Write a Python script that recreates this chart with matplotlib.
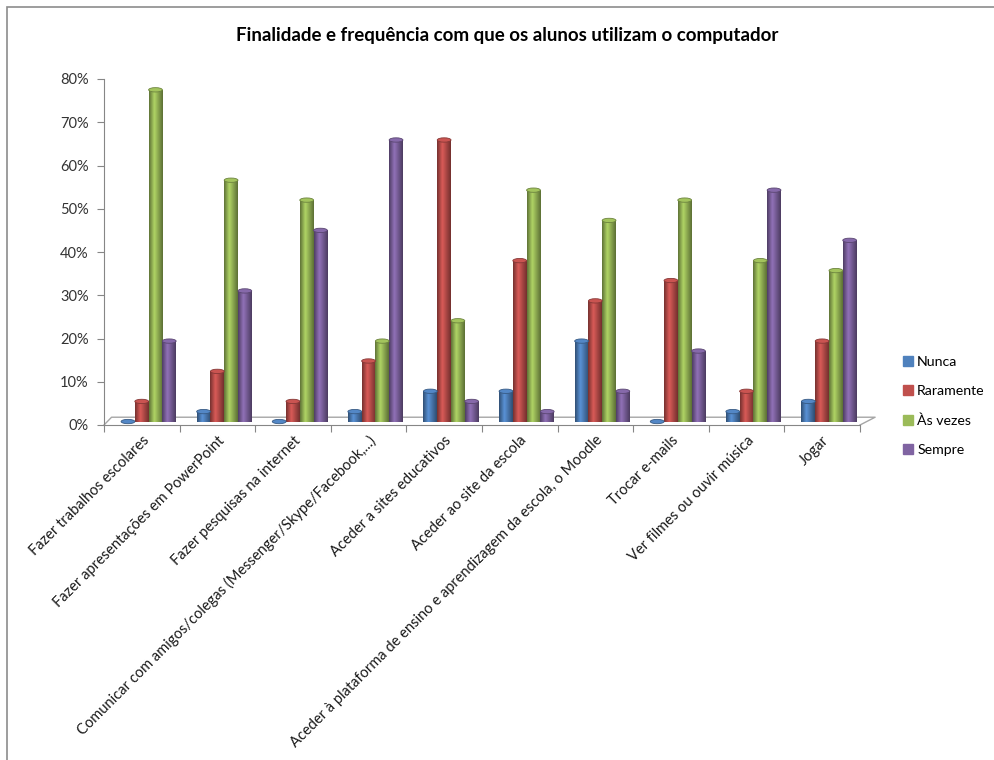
import numpy as np
import matplotlib
matplotlib.use('Agg')
import matplotlib.pyplot as plt
from matplotlib.patches import Ellipse, Rectangle
from matplotlib.colors import to_rgb

plt.rcParams['font.family'] = ['Lato', 'DejaVu Sans']

# Dados (percentagens)
categorias = ['Fazer trabalhos escolares',
              'Fazer apresentações em PowerPoint',
              'Fazer pesquisas na internet',
              'Comunicar com amigos/colegas (Messenger/Skype/Facebook,...)',
              'Aceder a sites educativos',
              'Aceder ao site da escola',
              'Aceder à plataforma de ensino e aprendizagem da escola, o Moodle',
              'Trocar e-mails',
              'Ver filmes ou ouvir música',
              'Jogar']
series = ['Nunca', 'Raramente', 'Às vezes', 'Sempre']
nunca = [0.0, 2.3, 0.0, 2.3, 7.0, 7.0, 18.6, 0.0, 2.3, 4.65]
raramente = [4.65, 11.6, 4.65, 14.0, 65.1, 37.2, 27.9, 32.6, 7.0, 18.6]
as_vezes = [76.7, 55.8, 51.2, 18.6, 23.3, 53.5, 46.5, 51.2, 37.2, 34.9]
sempre = [18.6, 30.2, 44.2, 65.1, 4.65, 2.3, 7.0, 16.3, 53.5, 41.9]
valores = [nunca, raramente, as_vezes, sempre]
cores = ['#4F81BD', '#C0504D', '#9BBB59', '#8064A2']

fig = plt.figure(figsize=(9.95, 7.6), dpi=100)
ax = fig.add_axes([104 / 995, 1 - 425 / 760, 756 / 995, 346 / 760])

# borda do gráfico
fig.patches.append(Rectangle((7 / 995, -0.02), 1.1, 1 - 7 / 760 + 0.02,
                             transform=fig.transFigure, fill=False,
                             edgecolor='#8c8c8c', lw=1.2))

n = len(categorias)
x = np.arange(n) + 0.5
largura = 0.182
desvio = 0.09      # deslocamento de profundidade (efeito 3D)
base = 0.8

perfil = np.concatenate([np.linspace(0.62, 1.12, 14), np.linspace(1.12, 0.6, 22)])

for k, (vals, cor) in enumerate(zip(valores, cores)):
    pos = x + desvio + (k - 1.5) * largura
    barras = ax.bar(pos, vals, width=largura, bottom=base, color=cor,
                    edgecolor='none', zorder=3)
    rgb = np.array(to_rgb(cor))
    grad = np.clip(perfil[:, None] * rgb[None, :], 0, 1)[None, :, :]
    for b, v in zip(barras, vals):
        x0 = b.get_x()
        if v > 0:
            im = ax.imshow(grad, extent=(x0, x0 + largura, base, base + v),
                           aspect='auto', zorder=3.5, interpolation='bilinear')
            im.set_clip_path(b)
        topo = np.clip(rgb * 1.05, 0, 1)
        ax.add_patch(Ellipse((x0 + largura / 2, base + v), largura, 1.0,
                             facecolor=topo, edgecolor=rgb * 0.7, lw=0.6,
                             zorder=4))

# piso 3D
fundo = 1.8
ax.plot([0, 0.1, 10.2, 10.0], [0, fundo, fundo, 0], color='#a6a6a6', lw=1,
        clip_on=False, zorder=1)

ax.set_xlim(0, n)
ax.set_ylim(0, 80)
ax.set_yticks(np.arange(0, 81, 10))
ax.set_yticklabels([f'{t}%' for t in range(0, 81, 10)], fontsize=10.5, color='#333333')
ax.set_xticks(np.arange(0, n + 1))
ax.set_xticklabels([])
ax.set_xticks(x, minor=True)
ax.set_xticklabels(categorias, minor=True, rotation=45, ha='right', va='top',
                   rotation_mode='anchor', fontsize=10.5, color='#1a1a1a')
ax.tick_params(axis='x', which='minor', length=0, pad=6)
ax.tick_params(axis='x', which='major', length=5, color='#868686', direction='out')
ax.tick_params(axis='y', length=5, color='#868686', direction='out', pad=6)
for lado in ['top', 'right']:
    ax.spines[lado].set_visible(False)
for lado in ['left', 'bottom']:
    ax.spines[lado].set_color('#868686')
ax.patch.set_visible(False)

fig.text(507 / 995, 1 - 35 / 760, 'Finalidade e frequência com que os alunos utilizam o computador',
         ha='center', va='center', fontsize=13.5, fontweight='bold', color='#000000')

handles = [Rectangle((0, 0), 1, 1, color=c) for c in cores]
fig.legend(handles, series, loc='center left', bbox_to_anchor=(893 / 995, 1 - 406 / 760),
           frameon=False, fontsize=10.2, handlelength=0.7, handleheight=0.7,
           handletextpad=0.3, labelspacing=1.2, borderpad=0.2)

fig.savefig('out.png', dpi=100)
